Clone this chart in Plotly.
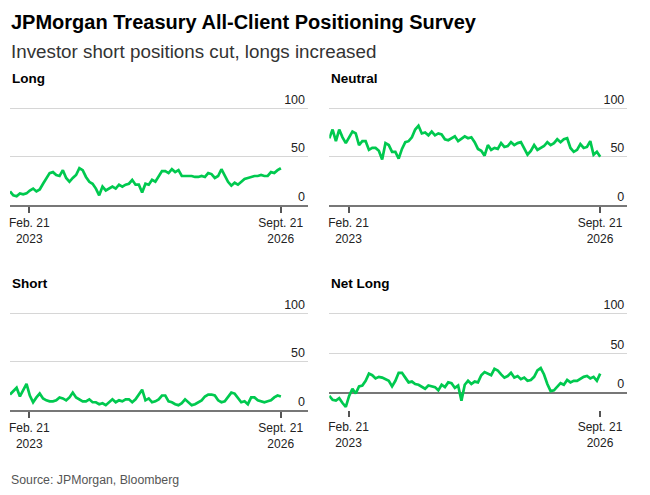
import plotly.graph_objects as go
import pandas as pd

W, H = 650, 495

# ---------------- data ----------------
start_date = "2022-11-13"
end_date = "2026-09-22"

long_vals = [14, 10, 9, 12, 11, 12, 15, 17, 14, 16,
             22, 27, 33, 34, 31, 30, 36, 28, 24, 28,
             31, 38, 36, 29, 24, 22, 17, 10, 19, 15,
             17, 19, 17, 21, 19, 21, 22, 26, 21, 21,
             13, 22, 21, 26, 24, 29, 35, 35, 33, 37,
             34, 36, 30, 30, 30, 30, 29, 29, 30, 29,
             33, 32, 28, 30, 37, 31, 24, 20, 23, 21,
             24, 27, 28, 29, 30, 30, 31, 30, 30, 34,
             33, 36, 38]

neutral_vals = [69, 78, 66, 78, 70, 64, 70, 76, 74, 62,
                66, 66, 57, 59, 59, 56, 47, 64, 62, 55,
                55, 48, 58, 65, 66, 70, 78, 82, 74, 75,
                72, 76, 72, 74, 73, 68, 67, 69, 71, 66,
                69, 71, 69, 70, 65, 58, 56, 51, 62, 57,
                59, 58, 64, 60, 61, 65, 62, 64, 65, 58,
                52, 56, 62, 57, 59, 61, 65, 62, 64, 68,
                65, 68, 69, 59, 55, 57, 63, 59, 60, 66,
                52, 55, 50]

short_vals = [16, 20, 23, 14, 20, 27, 15, 8, 13, 17,
              12, 10, 9, 9, 10, 13, 12, 10, 13, 18,
              13, 11, 9, 9, 11, 8, 8, 6, 7, 5,
              8, 11, 8, 10, 9, 11, 11, 8, 11, 16,
              21, 10, 12, 8, 9, 11, 15, 15, 9, 8,
              6, 5, 7, 11, 8, 5, 6, 8, 10, 14,
              16, 16, 15, 10, 8, 9, 13, 18, 17, 12,
              8, 9, 6, 13, 13, 10, 9, 8, 9, 10,
              13, 15, 14]

net_long_vals = [-4, -9, -10, -7, -13, -18, -4, 5, -1, 8,
                 9, 15, 24, 22, 18, 20, 19, 17, 15, 8,
                 15, 25, 25, 19, 13, 14, 11, 10, 8, 5,
                 9, 8, 7, 3, 10, 7, 13, 12, 6, 9,
                 -10, 10, 15, 11, 14, 13, 22, 26, 24, 22,
                 30, 28, 23, 19, 21, 25, 19, 21, 17, 19,
                 15, 16, 20, 28, 31, 23, 11, 2, 3, 8,
                 12, 10, 16, 13, 15, 15, 18, 20, 21, 18,
                 20, 15, 24]

panel_titles = ["Long", "Neutral", "Short", "Net Long"]
tick_dates = ["2023-02-21", "2026-09-21"]
tick_labels = ["Feb. 21<br>2023", "Sept. 21<br>2026"]
y_tick_vals = [0, 50, 100]
x_range = ["2022-11-13", "2027-02-10"]

dates = pd.date_range(start_date, end_date, periods=len(long_vals))

# ---------------- style ----------------
FONT = "Liberation Sans, Arial, Helvetica, sans-serif"
GREEN = "#00C94F"
GRID = "#d6d6d6"
AXIS = "#777777"


def fx(px):
    return px / W


def fy(py):
    return 1 - py / H


# (values, x px left/right, y px bottom/top, y range, zero line inside)
# y range top extended so the "100" label (drawn above its gridline) fits
panels = [
    (long_vals, (10, 308), (205, 90.9), [0, 118], False),
    (neutral_vals, (329.3, 627.3), (205, 90.9), [0, 118], False),
    (short_vals, (10, 308), (410, 295.9), [0, 118], False),
    (net_long_vals, (329.3, 627.3), (410, 291.1), [-21.8, 128], True),
]
title_y = [78, 78, 283, 283]

fig = go.Figure()
layout = dict(
    width=W, height=H,
    margin=dict(l=0, r=0, t=0, b=0),
    paper_bgcolor="white", plot_bgcolor="white",
    showlegend=False,
    font=dict(family=FONT, color="#222222", size=12),
)

annotations = []
for i, (vals, (xl, xr), (yb, yt), yr, inner_zero) in enumerate(panels):
    n = i + 1
    xa = "x" if n == 1 else f"x{n}"
    ya = "y" if n == 1 else f"y{n}"
    fig.add_trace(go.Scatter(
        x=dates, y=vals, mode="lines",
        line=dict(color=GREEN, width=2.7),
        xaxis=xa, yaxis=ya, hoverinfo="skip",
    ))
    xkey = "xaxis" if n == 1 else f"xaxis{n}"
    ykey = "yaxis" if n == 1 else f"yaxis{n}"
    layout[xkey] = dict(
        domain=[fx(xl), fx(xr)], anchor=ya,
        range=x_range, type="date",
        tickvals=tick_dates, ticktext=tick_labels,
        ticks="outside", ticklen=6, tickwidth=1.5, tickcolor="#555555",
        showgrid=False, zeroline=False,
        showline=not inner_zero, linecolor=AXIS, linewidth=2,
        tickfont=dict(size=12, color="#222222", family=FONT),
        fixedrange=True,
    )
    layout[ykey] = dict(
        domain=[fy(yb), fy(yt)], anchor=xa,
        range=yr, tickvals=y_tick_vals,
        side="right", ticklabelposition="inside top",
        ticks="", showgrid=True, gridcolor=GRID, gridwidth=1,
        zeroline=inner_zero, zerolinecolor=AXIS, zerolinewidth=2,
        showline=False,
        tickfont=dict(size=12.5, color="#222222", family=FONT),
        fixedrange=True,
    )
    annotations.append(dict(
        text=f"<b>{panel_titles[i]}</b>", x=fx(xl), y=fy(title_y[i]),
        xref="paper", yref="paper", xanchor="left", yanchor="middle",
        showarrow=False, font=dict(size=13.5, color="#000000", family=FONT),
    ))

annotations += [
    dict(text="<b>JPMorgan Treasury All-Client Positioning Survey</b>",
         x=fx(9), y=fy(22), xref="paper", yref="paper",
         xanchor="left", yanchor="middle", showarrow=False,
         font=dict(size=20, color="#000000", family=FONT)),
    dict(text="Investor short positions cut, longs increased",
         x=fx(9), y=fy(51), xref="paper", yref="paper",
         xanchor="left", yanchor="middle", showarrow=False,
         font=dict(size=18.8, color="#333333", family=FONT)),
    dict(text="Source: JPMorgan, Bloomberg",
         x=fx(9), y=fy(480), xref="paper", yref="paper",
         xanchor="left", yanchor="middle", showarrow=False,
         font=dict(size=12.3, color="#555555", family=FONT)),
]
layout["annotations"] = annotations
fig.update_layout(**layout)

fig.write_html("out.html", config={"displayModeBar": False},
               post_script="document.body.style.margin='0';")
